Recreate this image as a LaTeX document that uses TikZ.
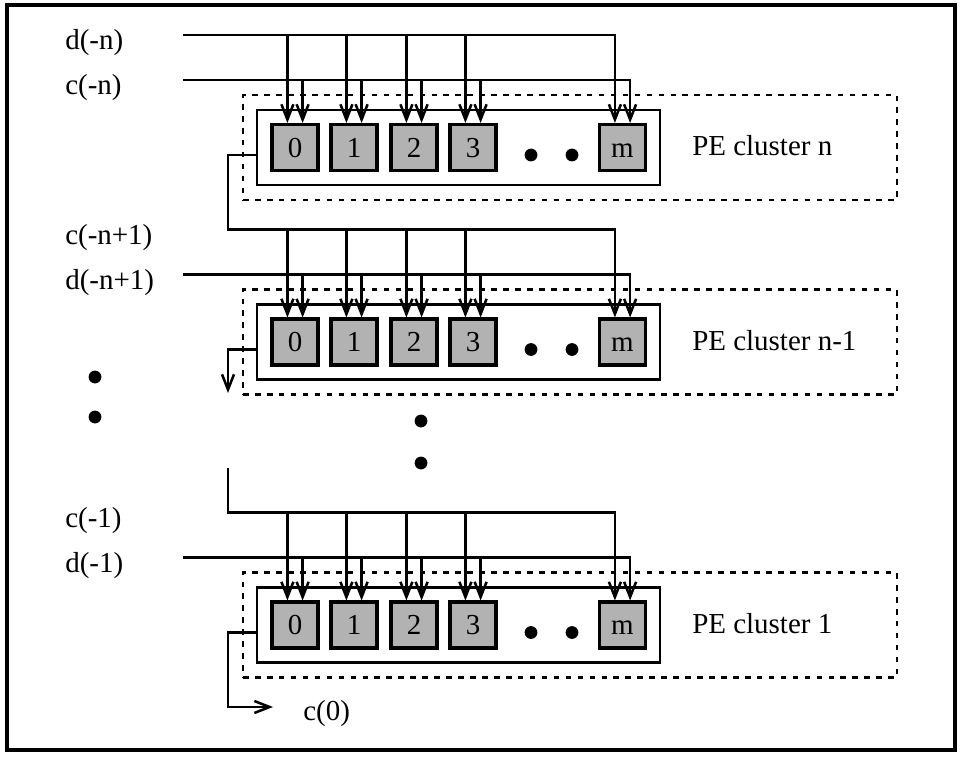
\documentclass[tikz,border=0pt]{standalone}
\usepackage{fontspec}
\setmainfont{Liberation Serif}
\usetikzlibrary{arrows.meta}

\tikzset{
  wire/.style={line width=1.8pt},
  arr/.style={wire, -{Straight Barb[length=0.38cm,width=0.3cm]}},
  pe/.style={draw, line width=2.2pt, fill=gray!60, minimum size=1.15cm, inner sep=0pt, text height=0.49cm, text depth=0pt},
  board/.style={draw, line width=1.8pt, minimum width=10.075cm, minimum height=1.875cm, inner sep=0pt},
  frame/.style={draw, line width=2pt, dash pattern=on 4pt off 4.5pt, minimum width=16.35cm, minimum height=2.625cm, inner sep=0pt},
  lbl/.style={anchor=base west, inner sep=0pt}
}

\begin{document}
\begin{tikzpicture}[scale=1, font=\fontsize{20.6}{24}\selectfont]
  \useasboundingbox (0,0) rectangle (24,18.925);
  \draw[line width=2.2pt] (0.175,0.175) rectangle (23.875,18.8);

  % PE clusters n, n-1 and 1
  \foreach \k/\y/\lab/\ul/\ll in {n/15.2375/n/d(-n)/c(-n), m/10.375/n-1/c(-n+1)/d(-n+1), a/3.3/1/c(-1)/d(-1)} {
    \node[frame] (f-\k) at (14.25,\y) {};
    \node[board] (b-\k) at (11.4625,\y) {};
    \foreach \i/\x in {0/7.375, 1/8.85, 2/10.35, 3/11.825, m/15.5625} {
      \node[pe] (pe-\k-\i) at (\x,\y) {\i};
      \coordinate (u-\k-\i) at (\x-0.19,\y+2.8125);
      \coordinate (l-\k-\i) at (\x+0.19,\y+1.6875);
    }
    \fill (13.275,\y-0.1875) circle (0.16);
    \fill (14.3,\y-0.1875) circle (0.16);
    \node[lbl] (lab-\k) at (17.3,\y-0.2) {PE cluster \lab};
    % inputs of the cluster
    \node[lbl] (ul-\k) at (1.625,\y+2.4375) {\ul};
    \node[lbl] (ll-\k) at (1.625,\y+1.3125) {\ll};
    \coordinate (s-\k) at (4.575,\y+1.6875);
    \coordinate (o-\k) at (5.7,\y-0.1875);
    \draw[arr] (s-\k) -- (l-\k-m) -- (l-\k-m |- pe-\k-m.north);
    \foreach \i in {0,1,2,3} {
      \draw[arr] (u-\k-\i) -- (u-\k-\i |- pe-\k-\i.north);
      \draw[arr] (l-\k-\i) -- (l-\k-\i |- pe-\k-\i.north);
    }
  }

  % c chain from cluster to cluster
  \coordinate (dn) at (4.575,18.05);
  \draw[arr] (dn) -- (u-n-m) -- (u-n-m |- pe-n-m.north);
  \draw[arr] (b-n.west |- o-n) -- (o-n) |- (u-m-m) -- (u-m-m |- pe-m-m.north);
  \coordinate (gap-top) at (5.7,9.1);
  \coordinate (gap-bot) at (5.7,7.225);
  \draw[arr] (b-m.west |- o-m) -- (o-m) -- (gap-top);
  \draw[arr] (gap-bot) |- (u-a-m) -- (u-a-m |- pe-a-m.north);
  \coordinate (c0-in) at (6.825,1.25);
  \draw[arr] (b-a.west |- o-a) -- (o-a) |- (c0-in);
  \node[lbl] (c0) at (7.575,0.925) {c(0)};

  % dots for the clusters left out
  \foreach \y in {9.5, 8.5} \fill (2.375,\y) circle (0.16);
  \foreach \y in {8.4, 7.35} \fill (10.525,\y) circle (0.16);
\end{tikzpicture}
\end{document}
